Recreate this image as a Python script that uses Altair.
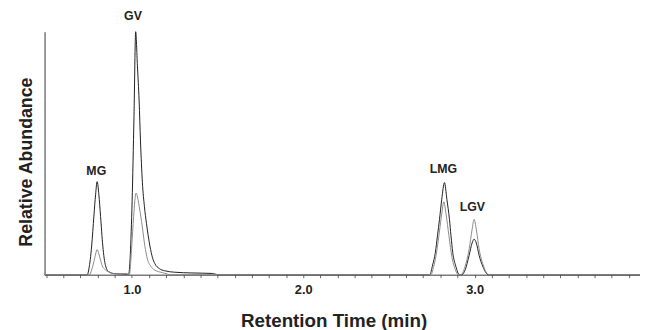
import altair as alt
import pandas as pd

# ---- data ----
# trace 1 (dark)
times_dark = [0.49, 0.740, 0.749, 0.765, 0.778, 0.788, 0.797, 0.807, 0.817, 0.830, 0.846, 0.865, 0.900, 0.970, 0.980,
              1.001, 1.012, 1.022, 1.032, 1.042, 1.050, 1.061, 1.073, 1.085, 1.105, 1.120, 1.134, 1.160, 1.191, 1.250, 1.350, 1.470, 1.500,
              2.738, 2.755, 2.771, 2.783, 2.795, 2.808, 2.824, 2.838, 2.853, 2.862, 2.872, 2.890, 2.911,
              2.925, 2.945, 2.968, 2.985, 2.997, 3.010, 3.026, 3.050, 3.080, 3.965]
vals_dark = [0, 0, 2.4, 11.8, 24.1, 33, 38.3, 33, 24, 11.8, 3.7, 1.2, 0.4, 0.2, 0,
             30, 65, 100, 86, 71.5, 55, 38, 28, 21, 11.8, 7, 4.5, 2.5, 1.6, 1.0, 0.7, 0.5, 0,
             0, 4, 9.2, 16, 22.8, 31, 37.9, 31, 22.8, 16, 9.2, 3.5, 0,
             0, 2, 8, 13, 14.6, 13, 8, 3, 0, 0]

# trace 2 (grey)
times_grey = [0.49, 0.753, 0.765, 0.778, 0.788, 0.797, 0.807, 0.817, 0.826, 0.845, 0.861, 0.903, 0.970, 0.985,
              0.999, 1.010, 1.024, 1.045, 1.060, 1.075, 1.090, 1.110, 1.130, 1.180, 1.230,
              2.745, 2.760, 2.775, 2.795, 2.808, 2.820, 2.833, 2.850, 2.868, 2.885, 2.905,
              2.920, 2.940, 2.968, 2.985, 2.997, 3.010, 3.026, 3.050, 3.083, 3.965]
vals_grey = [0, 0, 2, 5.3, 8.5, 10.3, 8.5, 6, 3.7, 2, 1.2, 0.4, 0.4, 0,
             11.8, 24, 33.6, 27, 20, 12, 6.5, 3.5, 2, 0.8, 0,
             0, 3, 8, 18, 25, 30, 25, 16, 7, 2.5, 0,
             0, 2.5, 10.6, 18.5, 22.8, 18.5, 10.6, 4, 0, 0]

peak_names = ["MG", "GV", "LMG", "LGV"]
peak_label_times = [0.792, 1.006, 2.818, 2.987]
peak_label_vals = [42.8, 106.6, 43.3, 27.8]

tick_values = [0.5, 0.6, 0.7, 0.8, 0.9, 1.0, 1.1, 1.2, 1.3, 1.4, 1.5, 1.6, 1.7, 1.8, 1.9, 2.0,
               2.1, 2.2, 2.3, 2.4, 2.5, 2.6, 2.7, 2.8, 2.9, 3.0, 3.1, 3.2, 3.3, 3.4, 3.5, 3.6,
               3.7, 3.8, 3.9]
tick_labels = ["1.0", "2.0", "3.0"]

df = pd.concat([
    pd.DataFrame({"t": times_dark, "v": vals_dark, "trace": "dark"}),
    pd.DataFrame({"t": times_grey, "v": vals_grey, "trace": "grey"}),
])
labels = pd.DataFrame({"name": peak_names, "t": peak_label_times, "v": peak_label_vals})

FONT = "Liberation Sans"

x_scale = alt.Scale(domain=[0.49, 3.965], nice=False, zero=False)
y_scale = alt.Scale(domain=[0, 100], nice=False)

label_list = "[" + ",".join("'" + s + "'" for s in tick_labels) + "]"
x_axis = alt.Axis(
    title="Retention Time (min)", values=tick_values, format=".1f",
    labelExpr="indexof(" + label_list + ", datum.label) >= 0 ? datum.label : ''",
    labelOverlap=False, labelFlush=False, grid=False,
    labelFont=FONT, labelFontWeight="bold", labelFontSize=13, labelColor="#222",
    labelBaseline="alphabetic", labelPadding=16,
    tickSize=3, tickColor="#666", domainColor="#333", domainWidth=1,
    titleFont=FONT, titleFontWeight="bold", titleFontSize=19, titleColor="#222",
    titleX=292.7, titleY=52, titleBaseline="alphabetic", titleAnchor="middle", titleAlign="center",
)
y_axis = alt.Axis(
    title="Relative Abundance", labels=False, ticks=False, grid=False,
    domainColor="#333", domainWidth=1,
    titleFont=FONT, titleFontWeight="bold", titleFontSize=18, titleColor="#222",
    titleX=-13, titleY=131.5, titleAngle=270, titleBaseline="alphabetic", titleAlign="center",
)

lines = alt.Chart(df).mark_line(interpolate="monotone", strokeWidth=1).encode(
    x=alt.X("t:Q", scale=x_scale, axis=x_axis),
    y=alt.Y("v:Q", scale=y_scale, axis=y_axis),
    detail="trace:N",
    color=alt.Color("trace:N", scale=alt.Scale(domain=["dark", "grey"], range=["#1e1e1e", "#8a8a8a"]), legend=None),
    order=alt.Order("t:Q"),
)

text = alt.Chart(labels).mark_text(font=FONT, fontWeight="bold", fontSize=12.5, color="#222",
                                   baseline="middle", align="center").encode(
    x=alt.X("t:Q", scale=x_scale, axis=x_axis),
    y=alt.Y("v:Q", scale=y_scale, axis=y_axis),
    text="name:N",
)

chart = alt.layer(lines, text).properties(
    width=603, height=246,
    padding={"left": 37, "top": 22, "right": 0, "bottom": 54},
    autosize=alt.AutoSizeParams(type="none"),
    background="white",
).configure_view(stroke=None)

chart.save("out.html", embed_options={"renderer": "svg", "actions": False})
